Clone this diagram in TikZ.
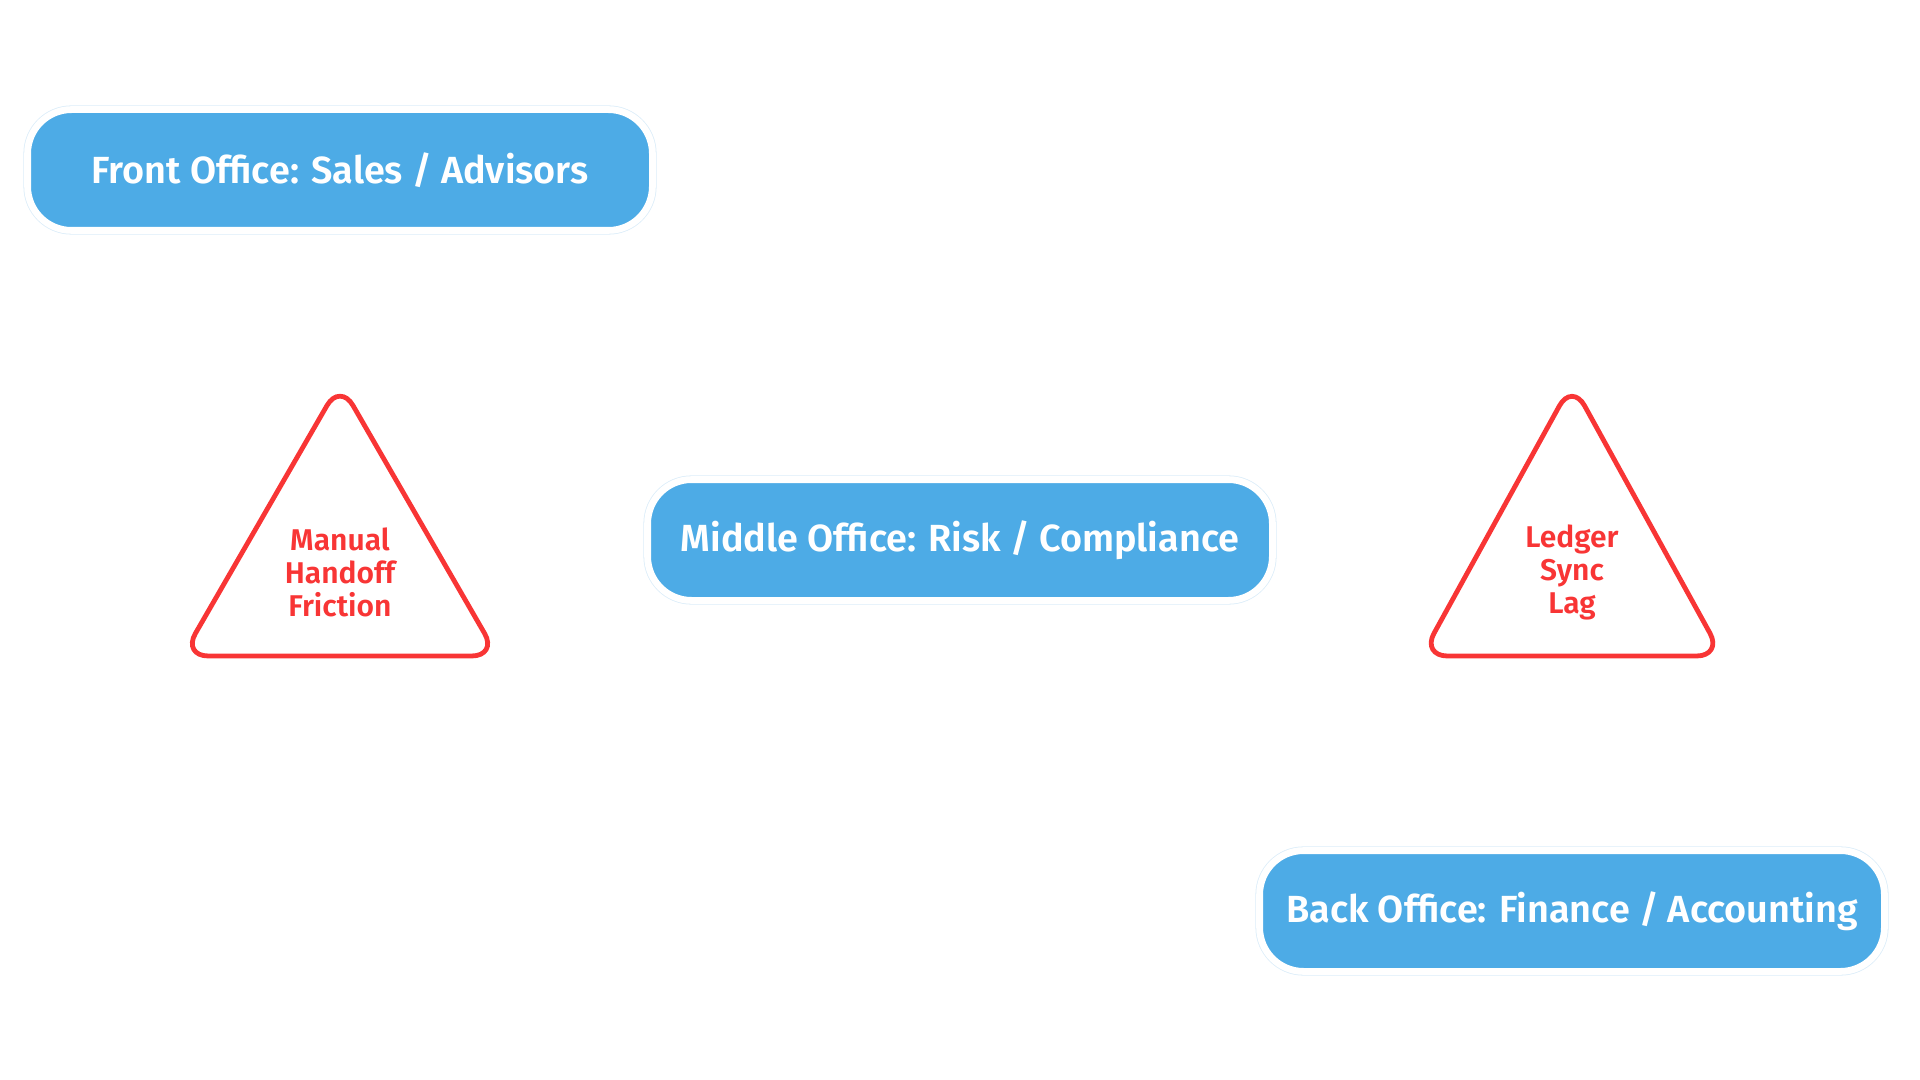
\documentclass[tikz,border=0pt]{standalone}
\usepackage{fontspec}
\setmainfont{Fira Sans}[BoldFont={Fira Sans SemiBold}]
\usetikzlibrary{shapes.geometric}

\definecolor{officeblue}{HTML}{4DABE6}
\definecolor{ringblue}{HTML}{DCEDF9}
\definecolor{alertred}{HTML}{F83535}

\begin{document}
\begin{tikzpicture}[
  x=0.5pt, y=-0.5pt,
  office/.style={rectangle, rounded corners=22pt, fill=officeblue, draw=white,
    line width=3.4pt, preaction={draw=ringblue, line width=4.2pt},
    minimum width=312.4pt, minimum height=60.4pt, inner sep=0pt,
    text=white, font=\fontsize{18.9}{23}\selectfont\bfseries},
  warn/.style={regular polygon, regular polygon sides=3, draw=alertred,
    line width=2.4pt, rounded corners=13pt, minimum size=182pt, inner sep=0pt},
  warntext/.style={align=center, text=alertred,
    font=\fontsize{15}{16.5}\selectfont\bfseries}
]
\useasboundingbox (0,0) rectangle (1920,1080);

% the three offices, top left to bottom right
\node[office] (front)  at (340,170) {Front Office: Sales / Advisors};
\node[office] (middle) at (960,540) {Middle Office: Risk / Compliance};
\node[office] (back)   at (1572,911) {Back Office: Finance / Accounting};

% warning signs between them
\node[warn] (handoff) at (340,565) {};
\node[warntext] (handofftext) at (340,572) {Manual\\Handoff\\Friction};

\node[warn, xscale=0.955, transform shape] (sync) at (1572,565) {};
\node[warntext] (synctext) at (1572,572) {Ledger\\Sync\\Lag};

\end{tikzpicture}
\end{document}
